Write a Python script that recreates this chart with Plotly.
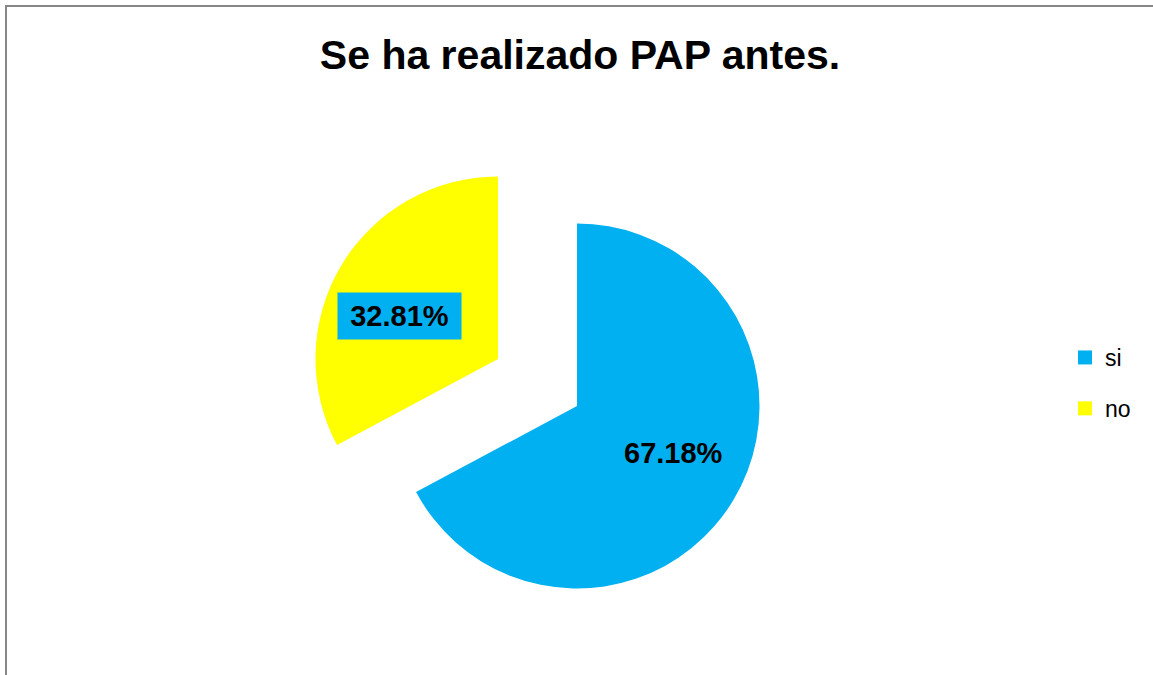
import plotly.graph_objects as go

# ---- data ----
labels = ["si", "no"]
values = [67.18, 32.81]
colors = ["#00B0F0", "#FFFF00"]
title_text = "Se ha realizado PAP antes."

W, H = 1153, 675
TRANSPARENT = "rgba(0,0,0,0)"


def dom(cx, cy, r):
    return dict(x=[(cx - r) / W, (cx + r) / W],
                y=[1 - (cy + r) / H, 1 - (cy - r) / H])


R = 182.5
fig = go.Figure()

# main slice (si) in place
fig.add_trace(go.Pie(
    labels=labels, values=values, sort=False, direction="clockwise", rotation=0,
    marker=dict(colors=[colors[0], TRANSPARENT], line=dict(width=0)),
    textinfo="none", hoverinfo="label+percent", showlegend=False,
    domain=dom(577, 406, R),
))
# exploded slice (no)
fig.add_trace(go.Pie(
    labels=labels, values=values, sort=False, direction="clockwise", rotation=0,
    marker=dict(colors=[TRANSPARENT, colors[1]], line=dict(width=0)),
    textinfo="none", hoverinfo="label+percent", showlegend=False,
    domain=dom(498, 359, R),
))

# legend entries
for i, (lab, col) in enumerate(zip(labels, colors)):
    fig.add_trace(go.Scatter(
        x=[None], y=[None], mode="markers", name=lab, legendgroup=lab,
        marker=dict(symbol="square", size=14, color=col),
    ))

label_font = dict(family="Liberation Sans", size=29, color="black", weight="bold")
fig.add_annotation(
    x=673 / W, y=1 - 453 / H, xref="paper", yref="paper",
    xanchor="center", yanchor="middle",
    text=f"{values[0]:.2f}%", showarrow=False, font=label_font,
)
fig.add_annotation(
    x=399.5 / W, y=1 - 316 / H, xref="paper", yref="paper",
    xanchor="center", yanchor="middle",
    text=f"{values[1]:.2f}%", showarrow=False, font=label_font,
    bgcolor=colors[0], borderpad=1, width=121, height=44,
)

# chart-area border (top and left edges visible)
fig.add_shape(type="line", xref="paper", yref="paper",
              x0=5 / W, x1=1, y0=1 - 6 / H, y1=1 - 6 / H,
              line=dict(color="#878787", width=2), layer="above")
fig.add_shape(type="line", xref="paper", yref="paper",
              x0=6 / W, x1=6 / W, y0=0, y1=1 - 5 / H,
              line=dict(color="#878787", width=2), layer="above")

fig.update_layout(
    width=W, height=H,
    margin=dict(l=0, r=0, t=0, b=0),
    paper_bgcolor="white", plot_bgcolor=TRANSPARENT,
    title=dict(text=title_text, x=580 / W, xanchor="center",
               y=1 - 55 / H, yanchor="middle",
               font=dict(family="Liberation Sans", size=41, color="black", weight="bold")),
    xaxis=dict(visible=False), yaxis=dict(visible=False),
    legend=dict(x=1065 / W, y=1 - 336 / H, xanchor="left", yanchor="top",
                font=dict(family="Liberation Sans", size=23, color="black"),
                tracegroupgap=18, bgcolor=TRANSPARENT),
)

fig.write_html(
    "out.html",
    config={"displayModeBar": False},
    post_script="document.body.style.margin='0px';document.body.style.overflow='hidden';",
)
